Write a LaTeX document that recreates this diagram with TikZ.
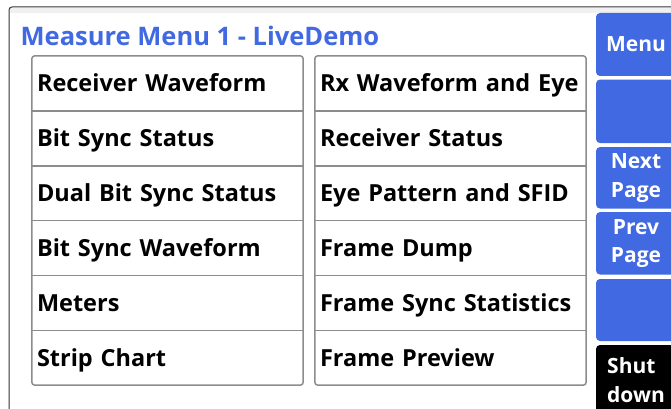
\documentclass[tikz,border=0pt]{standalone}
\usepackage{fontspec}
\setmainfont{Open Sans}
\definecolor{royal}{HTML}{4169E1}
\definecolor{rim}{HTML}{8C8C8C}
\definecolor{band}{HTML}{F0F0F0}

\begin{document}
\begin{tikzpicture}[x=1pt, y=-1pt,
  every node/.style={inner sep=0pt},
  cell/.style={minimum width=271pt, minimum height=54.8pt, inner xsep=5pt,
    text width=261pt, align=left, text height=17pt, text depth=0pt,
    font=\bfseries\fontsize{23.5}{27}\selectfont},
  key/.style={fill=royal, rounded corners=4pt, minimum width=80pt,
    text=white, align=center, font=\bfseries\fontsize{21}{28.5}\selectfont},
  column/.style={draw=rim, line width=1.5pt, rounded corners=3pt}]
  \useasboundingbox (0,0) rectangle (671,409);
  \clip (0,0) rectangle (671,409);

  % window frame
  \fill[band] (10,8) rectangle (671,13);
  \draw[black!80, line width=1pt, rounded corners=3pt] (9,412) -- (9,7) -- (675,7);
  \node[anchor=base west, text=royal, font=\bfseries\fontsize{25.5}{30}\selectfont]
    (title) at (20.5,45.7) {Measure Menu 1 - LiveDemo};

  % left column
  \node[cell] (l1) at (167.5,83.4) {Receiver Waveform};
  \node[cell] (l2) at (167.5,138.3) {Bit Sync Status};
  \node[cell] (l3) at (167.5,193.1) {Dual Bit Sync Status};
  \node[cell] (l4) at (167.5,247.9) {Bit Sync Waveform};
  \node[cell] (l5) at (167.5,302.8) {Meters};
  \node[cell] (l6) at (167.5,357.6) {Strip Chart};
  \draw[column] (l1.north west) rectangle (l6.south east);
  \draw[rim, line width=1.5pt] (l1.south west) -- (l1.south east)
    (l2.south west) -- (l2.south east) (l3.south west) -- (l3.south east)
    (l4.south west) -- (l4.south east) (l5.south west) -- (l5.south east);

  % right column
  \node[cell] (r1) at (450.5,83.4) {Rx Waveform and Eye};
  \node[cell] (r2) at (450.5,138.3) {Receiver Status};
  \node[cell] (r3) at (450.5,193.1) {Eye Pattern and SFID};
  \node[cell] (r4) at (450.5,247.9) {Frame Dump};
  \node[cell] (r5) at (450.5,302.8) {Frame Sync Statistics};
  \node[cell] (r6) at (450.5,357.6) {Frame Preview};
  \draw[column] (r1.north west) rectangle (r6.south east);
  \draw[rim, line width=1.5pt] (r1.south west) -- (r1.south east)
    (r2.south west) -- (r2.south east) (r3.south west) -- (r3.south east)
    (r4.south west) -- (r4.south east) (r5.south west) -- (r5.south east);

  % side keys
  \node[key, minimum height=63pt] (menu) at (636,44.5) {Menu};
  \node[key, minimum height=63.5pt] (blank1) at (636,111.3) {};
  \node[key, minimum height=61.5pt] (next) at (636,177.8) {Next\\Page};
  \node[key, minimum height=62.5pt] (prev) at (636,243.3) {Prev\\Page};
  \node[key, minimum height=62pt] (blank2) at (636,310) {};
  \node[key, fill=black, align=left, minimum height=70pt] (shut) at (636,380) {Shut\\down};
\end{tikzpicture}
\end{document}
